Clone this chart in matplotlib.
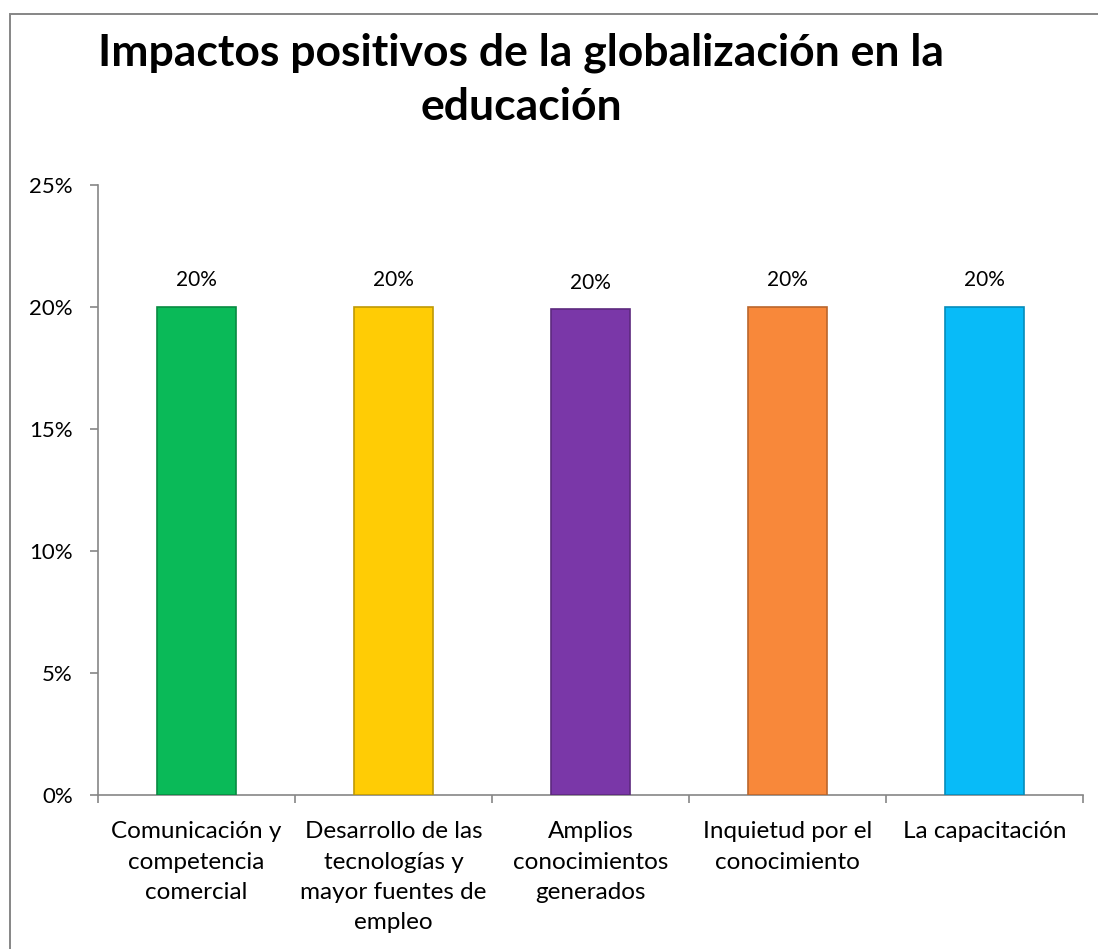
import matplotlib.pyplot as plt
from matplotlib.patches import Rectangle
from matplotlib.ticker import FuncFormatter, MultipleLocator
import matplotlib.colors as mcolors

plt.rcParams['font.family'] = ['Lato', 'DejaVu Sans']

categories = ['Comunicación y\ncompetencia\ncomercial',
              'Desarrollo de las\ntecnologías y\nmayor fuentes de\nempleo',
              'Amplios\nconocimientos\ngenerados',
              'Inquietud por el\nconocimiento',
              'La capacitación']
values = [0.200, 0.200, 0.199, 0.200, 0.200]
labels = ['20%', '20%', '20%', '20%', '20%']
colors = ['#0ABA58', '#FFCC05', '#7A37A8', '#F8883A', '#08BBF8']

W, H = 1098, 949
fig = plt.figure(figsize=(W / 100, H / 100), dpi=100)

# chart border (Excel chart area)
fig.patches.append(Rectangle((9.5 / W, -0.1), 1.2, 1.1 - 13.5 / H, transform=fig.transFigure,
                             fill=False, edgecolor='#868686', linewidth=1.4))

ax = fig.add_axes([98 / W, 1 - 795 / H, 985 / W, 610 / H])

x = list(range(len(values)))
edge = [mcolors.to_hex([c * 0.75 for c in mcolors.to_rgb(col)]) for col in colors]
bars = ax.bar(x, values, width=0.4, color=colors, edgecolor=edge, linewidth=1.2, zorder=3)

for xi, v, lab in zip(x, values, labels):
    ax.annotate(lab, (xi, v), xytext=(0, 12), textcoords='offset points',
                ha='center', va='bottom', fontsize=15)

ax.set_xlim(-0.5, len(values) - 0.5)
ax.set_ylim(0, 0.25)
ax.yaxis.set_major_locator(MultipleLocator(0.05))
ax.yaxis.set_major_formatter(FuncFormatter(lambda v, p: f'{v * 100:.0f}%'))

ax.set_xticks(x)
ax.set_xticklabels(categories, fontsize=17.5, linespacing=1.55)
ax.set_xticks([i - 0.5 for i in range(len(values) + 1)], minor=True)
ax.tick_params(axis='x', which='major', length=0, pad=19)
ax.tick_params(axis='x', which='minor', length=6, color='#868686', width=1.2)
ax.tick_params(axis='y', length=6, color='#868686', width=1.2, pad=12, labelsize=16)

for s in ['top', 'right']:
    ax.spines[s].set_visible(False)
for s in ['left', 'bottom']:
    ax.spines[s].set_color('#868686')
    ax.spines[s].set_linewidth(1.2)

fig.text(521 / W, 1 - 120 / H, 'Impactos positivos de la globalización en la\neducación',
         ha='center', va='baseline', multialignment='center', fontsize=32,
         fontweight='bold', linespacing=1.42)

fig.savefig('out.png', dpi=100)
